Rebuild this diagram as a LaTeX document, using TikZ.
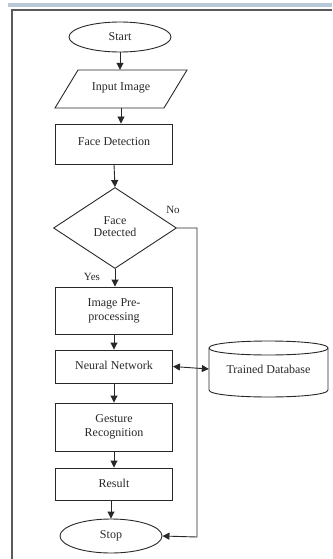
\documentclass[tikz,border=0pt]{standalone}
\usepackage{fontspec}
\setmainfont{Liberation Serif}
\usetikzlibrary{shapes.geometric,arrows.meta}
\definecolor{ink}{RGB}{40,40,40}
\definecolor{txt}{RGB}{40,40,40}
\definecolor{barblue}{RGB}{185,200,215}
\definecolor{framegray}{RGB}{90,90,90}
\begin{document}
\begin{tikzpicture}[x=1pt,y=-1pt,
  every node/.style={font=\fontsize{12}{14}\selectfont, text=txt},
  box/.style={draw=ink, line width=0.9pt, rectangle, inner sep=0pt, minimum width=117pt, align=center},
  term/.style={draw=ink, line width=0.9pt, ellipse, inner sep=0pt, minimum width=102pt},
  decision/.style={draw=ink, line width=0.9pt, diamond, inner sep=0pt, minimum width=123pt, minimum height=81pt, align=center},
  flow/.style={draw=ink, line width=0.9pt, -{Triangle[width=7pt,length=7pt]}},
  both/.style={draw=ink, line width=0.9pt, {Triangle[width=7pt,length=7pt]}-{Triangle[width=7pt,length=7pt]}},
  outline/.style={draw=ink, line width=0.9pt},
  lbl/.style={font=\fontsize{11}{13}\selectfont}
]
\useasboundingbox (0,0) rectangle (332,559);
% window frame
\fill[barblue] (8,3) rectangle (332,7);
\draw[framegray, line width=1.3pt] (12,559) -- (12,10) -- (332,10);

% nodes
\node[term, minimum height=30pt] (start) at (120,37) {Start};
\node[inner sep=0pt, minimum width=109pt, minimum height=38pt] (input) at (121,89) {\raisebox{4pt}{Input Image}};
\node[box, minimum height=40pt] (fd) at (114,144) {\raisebox{5pt}{Face Detection}};
\node[decision] (dec) at (115,228) {\raisebox{3pt}{\shortstack{Face\\[1pt]Detected}}};
\node[box, minimum height=47pt] (pre) at (114,310.5) {Image Pre-\\processing};
\node[box, minimum height=33pt] (nn) at (114,366.5) {\raisebox{2pt}{Neural Network}};
\node[inner sep=0pt, minimum width=119pt, minimum height=56pt] (db) at (268.5,369) {Trained Database};
\node[box, minimum height=48pt] (gr) at (114,427) {Gesture\\Recognition};
\node[box, minimum height=32pt] (res) at (114,484) {\raisebox{2pt}{Result}};
\node[term, minimum height=34pt] (stop) at (111,536) {Stop};

% input parallelogram
\draw[outline] (55,108) -- (164,108) -- (187,70) -- (78,70) -- cycle;

% database cylinder
\draw[outline] (209,348) -- (209,390)
  .. controls (209,399.33) and (328,399.33) .. (328,390) -- (328,348);
\draw[outline] (209,348) .. controls (209,338.67) and (328,338.67) .. (328,348)
  .. controls (328,357.33) and (209,357.33) .. (209,348);

% labels
\node[lbl] (no) at (173,210) {No};
\node[lbl] (yes) at (92,277) {Yes};

% corners of the No line
\coordinate (c1) at (197,228);
\coordinate (c2) at (197,537);

% connectors
\draw[flow] (start.south) -- (start.south |- input.north);
\draw[flow] (input.south) -- (input.south |- fd.north);
\draw[flow] (fd.south) -- (dec.north);
\draw[flow] (dec.south) -- (dec.south |- pre.north);
\draw[flow] (pre.south) -- (nn.north);
\draw[flow] (nn.south) -- (gr.north);
\draw[flow] (gr.south) -- (res.north);
\draw[flow] (stop.north |- res.south) -- (stop.north);
\draw[flow] (dec.east) -- (c1) -- (c2) -- (stop.east);
\draw[both] (nn.east) -- (db.west);
\end{tikzpicture}
\end{document}
